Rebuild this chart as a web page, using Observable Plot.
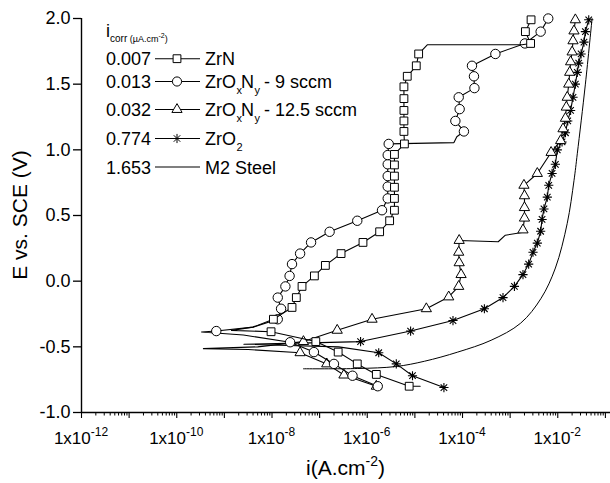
<!DOCTYPE html>
<html><head><meta charset="utf-8">
<script src="https://cdn.jsdelivr.net/npm/d3@7"></script>
<script src="https://cdn.jsdelivr.net/npm/@observablehq/plot@0.6"></script>
<style>
html,body{margin:0;padding:0;background:#fff;}
#chart{position:relative;width:610px;height:483px;}
svg{font-family:"Liberation Sans",Arial,Helvetica,sans-serif;}
</style></head><body><div id="chart"></div>
<script>
// ---------- data (current density A/cm², potential V vs SCE) ----------
const seriesNames = ["ZrN", "ZrOxNy - 9 sccm", "ZrOxNy - 12.5 sccm", "ZrO2", "M2 Steel"];
const icorrLabels = ["0.007", "0.013", "0.032", "0.774", "1.653"];
const tickExponents = [-12, -10, -8, -6, -4, -2];
const yTicks = [-1.0, -0.5, 0.0, 0.5, 1.0, 1.5, 2.0];

const zrN_i = [1.29e-5, 7.59e-6, 1.55e-6, 6.17e-7, 2.45e-7, 8.32e-8, 9.55e-9, 1.41e-9, 3.98e-9, 1.07e-8, 2.63e-8, 3.24e-8, 4.27e-8, 7.76e-8, 1.32e-7, 2.82e-7, 8.13e-7, 1.82e-6, 2.95e-6, 3.72e-6, 3.72e-6, 3.72e-6, 3.72e-6, 3.72e-6, 3.72e-6, 6.03e-6, 5.89e-6, 5.89e-6, 5.89e-6, 5.89e-6, 5.89e-6, 6.92e-6, 1.07e-5, 1.20e-5, 1.82e-5, 1.78e-3, 2.69e-3, 2.09e-3, 2.75e-3];
const zrN_E = [-0.80, -0.80, -0.71, -0.63, -0.54, -0.46, -0.385, -0.375, -0.35, -0.29, -0.20, -0.125, -0.04, 0.04, 0.12, 0.21, 0.295, 0.376, 0.46, 0.54, 0.63, 0.715, 0.80, 0.885, 0.965, 1.045, 1.14, 1.22, 1.30, 1.39, 1.48, 1.56, 1.64, 1.73, 1.80, 1.80, 1.81, 1.90, 1.99];
const zrN_sym = [0,1,1,1,1,1,1,0,0, 1,1,1,1,1,1,1,1,1,1, 1,1,1,1,1,1,1,1,1,1, 1,1,1,1,1, 0,0,1,1,1];

const zon9_i = [1.66e-6, 4.90e-7, 2.00e-7, 7.59e-8, 2.40e-8, 2.51e-9, 3.31e-10, 6.76e-10, 3.98e-9, 1.32e-8, 1.55e-8, 1.32e-8, 1.91e-8, 2.34e-8, 2.63e-8, 3.89e-8, 6.61e-8, 1.62e-7, 6.17e-7, 2.04e-6, 2.69e-6, 2.69e-6, 2.69e-6, 2.69e-6, 2.69e-6, 2.82e-6, 6.61e-5, 7.59e-5, 1.07e-4, 7.08e-5, 8.71e-5, 8.32e-5, 1.78e-4, 1.74e-4, 1.58e-4, 4.90e-4, 2.04e-3, 4.37e-3, 6.31e-3];
const zon9_E = [-0.80, -0.72, -0.63, -0.54, -0.465, -0.41, -0.387, -0.38, -0.35, -0.29, -0.21, -0.125, -0.04, 0.04, 0.13, 0.21, 0.295, 0.376, 0.46, 0.54, 0.63, 0.72, 0.80, 0.89, 0.96, 1.045, 1.055, 1.10, 1.14, 1.22, 1.31, 1.40, 1.47, 1.56, 1.64, 1.73, 1.81, 1.90, 2.0];
const zon9_sym = [1,1,1,1,1,0,0,1,0, 1,1,1,1,1,1,1,1,1,1,1,1,1,1,1,1,1, 0,0, 1,1,1,1,1,1,1,1,1,1,1];

const zon12_i = [1.55e-6, 3.24e-7, 1.41e-7, 3.89e-8, 3.16e-9, 3.63e-10, 5.01e-9, 4.57e-8, 2.34e-7, 1.26e-6, 1.74e-5, 5.13e-5, 8.32e-5, 9.33e-5, 8.51e-5, 8.32e-5, 8.51e-5, 5.62e-4, 7.94e-4, 1.78e-3, 1.86e-3, 2.00e-3, 2.00e-3, 2.00e-3, 1.95e-3, 3.72e-3, 7.24e-3, 1.15e-2, 1.29e-2, 1.45e-2, 1.51e-2, 1.58e-2, 1.70e-2, 1.78e-2, 1.86e-2, 2.00e-2, 2.09e-2, 2.19e-2, 2.34e-2];
const zon12_E = [-0.80, -0.715, -0.63, -0.545, -0.52, -0.514, -0.50, -0.46, -0.374, -0.29, -0.21, -0.12, -0.04, 0.05, 0.14, 0.22, 0.31, 0.30, 0.35, 0.37, 0.39, 0.48, 0.56, 0.65, 0.73, 0.82, 0.98, 1.07, 1.16, 1.24, 1.325, 1.40, 1.50, 1.59, 1.67, 1.745, 1.83, 1.905, 1.99];
const zon12_sym = [1,1,1,1,0,0,0, 1,1,1,1,1,1,1,1,1,1, 0,0,0, 1,1,1,1,1,1,1,1,1,1,1,1,1,1,1,1,1,1,1];

const zrO2_i = [4.07e-5, 8.91e-6, 4.07e-6, 1.74e-6, 2.51e-7, 2.57e-9, 6.31e-8, 7.24e-7, 8.13e-6, 6.31e-5, 2.88e-4, 7.08e-4, 1.23e-3, 1.86e-3, 2.45e-3, 3.02e-3, 3.72e-3, 4.37e-3, 4.68e-3, 5.13e-3, 6.03e-3, 6.46e-3, 7.59e-3, 8.91e-3, 9.77e-3, 1.23e-2, 1.45e-2, 1.62e-2, 1.86e-2, 2.09e-2, 2.34e-2, 2.57e-2, 2.75e-2, 3.09e-2, 3.55e-2, 3.80e-2, 4.47e-2];
const zrO2_E = [-0.81, -0.72, -0.63, -0.545, -0.50, -0.48, -0.47, -0.46, -0.38, -0.30, -0.21, -0.125, -0.04, 0.05, 0.13, 0.22, 0.29, 0.38, 0.47, 0.55, 0.64, 0.73, 0.82, 0.89, 1.00, 1.06, 1.13, 1.22, 1.30, 1.40, 1.50, 1.59, 1.66, 1.73, 1.82, 1.90, 1.99];
const zrO2_sym = [1,1,1,1,0,0,0, 1,1,1,1,1,1,1,1,1,1,1,1,1,1,1,1,1,1,1,1,1,1,1,1,1,1,1,1,1,1];

const steel_i = [4.57e-8, 6.31e-7, 3.98e-6, 1.58e-5, 7.94e-5, 3.98e-4, 1.66e-3, 4.47e-3, 8.91e-3, 1.58e-2, 2.19e-2, 2.57e-2, 3.80e-2, 5.25e-2];
const steel_E = [-0.667, -0.665, -0.65, -0.61, -0.54, -0.45, -0.32, -0.13, 0.10, 0.44, 0.765, 0.97, 1.50, 2.0];

// ---------- build tables ----------
const asterisk8 = {
  draw(ctx, size) {
    const r = Math.sqrt(size / Math.PI), d = r * Math.SQRT1_2;
    ctx.moveTo(-r, 0); ctx.lineTo(r, 0);
    ctx.moveTo(0, -r); ctx.lineTo(0, r);
    ctx.moveTo(-d, -d); ctx.lineTo(d, d);
    ctx.moveTo(-d, d); ctx.lineTo(d, -d);
  }
};
const toRows = (name, I, E, S) => I.map((v, k) => ({series: name, i: v, E: E[k], sym: S ? S[k] : 0}));
const zrN = toRows(seriesNames[0], zrN_i, zrN_E, zrN_sym);
const zon9 = toRows(seriesNames[1], zon9_i, zon9_E, zon9_sym);
const zon12 = toRows(seriesNames[2], zon12_i, zon12_E, zon12_sym);
const zrO2 = toRows(seriesNames[3], zrO2_i, zrO2_E, zrO2_sym);
const steel = toRows(seriesNames[4], steel_i, steel_E, null);

const decades = d3.range(-12, 0).map(e => Math.pow(10, e));
const minors = [];
decades.forEach(d => { for (let m = 2; m <= 9; m++) if (m * d <= 0.128) minors.push(m * d); });

const lineOpts = {x: "i", y: "E", stroke: "black", strokeWidth: 1.1};
const dotOpts = {x: "i", y: "E", stroke: "black", strokeWidth: 1, fill: "white"};

const plot = Plot.plot({
  width: 610, height: 483,
  marginLeft: 81, marginRight: 0, marginTop: 18, marginBottom: 71,
  x: {type: "log", domain: [1e-12, 0.128]},
  y: {domain: [-1, 2]},
  style: {fontFamily: "'Liberation Sans', Arial, sans-serif", fontSize: "18px", color: "black", background: "white"},
  marks: [
    Plot.line(steel, {...lineOpts, strokeWidth: 1, curve: "catmull-rom"}),
    Plot.line(zrO2, lineOpts),
    Plot.dot(zrO2.filter(d => d.sym), {...dotOpts, symbol: asterisk8, r: 4.6, fill: "none", strokeWidth: 1.1}),
    Plot.line(zon12, lineOpts),
    Plot.dot(zon12.filter(d => d.sym), {...dotOpts, symbol: "triangle", r: 3.8}),
    Plot.line(zon9, lineOpts),
    Plot.dot(zon9.filter(d => d.sym), {...dotOpts, symbol: "circle", r: 4.7}),
    Plot.line(zrN, lineOpts),
    Plot.dot(zrN.filter(d => d.sym), {...dotOpts, symbol: "square", r: 4.4}),
    Plot.ruleY([-1], {stroke: "black", strokeWidth: 1.4}),
    Plot.ruleX([1e-12], {stroke: "black", strokeWidth: 1.4}),
    Plot.axisY({ticks: yTicks, tickFormat: d => d.toFixed(1), tickSize: 8, tickPadding: 3, fontSize: 18, label: null, strokeWidth: 1.3}),
    Plot.axisX({ticks: decades, tickSize: 6, tickFormat: () => "", label: null, strokeWidth: 1.1}),
    Plot.axisX({ticks: minors, tickSize: 3.5, tickFormat: () => "", label: null, strokeWidth: 1})
  ]
});

document.getElementById("chart").appendChild(plot);
const svg = d3.select(plot);
const xs = plot.scale("x");
const ys = plot.scale("y");

// x tick labels 1x10^n
const gx = svg.append("g").attr("font-size", 17).attr("text-anchor", "middle").attr("fill", "black");
tickExponents.forEach(e => {
  const t = gx.append("text").attr("x", xs.apply(Math.pow(10, e))).attr("y", 444);
  t.append("tspan").text("1x10");
  t.append("tspan").attr("dy", -8).attr("font-size", 12).text(String(e));
});

// axis titles (centred on the plot frame)
const xMid = (xs.range[0] + xs.range[1]) / 2;
const yMid = (ys.range[0] + ys.range[1]) / 2;
const xt = svg.append("text").attr("x", xMid).attr("y", 475).attr("text-anchor", "middle").attr("font-size", 21).attr("fill", "black");
xt.append("tspan").text("i(A.cm");
xt.append("tspan").attr("dy", -9).attr("font-size", 14).text("-2");
xt.append("tspan").attr("dy", 9).text(")");

svg.append("text").attr("transform", `translate(27,${yMid}) rotate(-90)`).attr("text-anchor", "middle")
  .attr("font-size", 21).attr("fill", "black").text("E vs. SCE (V)");

// legend
const lg = svg.append("g").attr("fill", "black").attr("text-anchor", "start");
const hdr = lg.append("text").attr("x", 106).attr("y", 37).attr("font-size", 18);
hdr.append("tspan").text("i");
hdr.append("tspan").attr("dy", 5).attr("font-size", 10).text("corr");
hdr.append("tspan").attr("font-size", 9).text(" (\u00b5A.cm");
hdr.append("tspan").attr("dy", -4).attr("font-size", 7).text("-2");
hdr.append("tspan").attr("dy", 4).attr("font-size", 9).text(")");

const rowY = [58.7, 81.5, 109.5, 138.5, 167];
const labelParts = [
  [["ZrN"]],
  [["ZrO"], ["x", 1], ["N"], ["y", 1], [" - 9 sccm"]],
  [["ZrO"], ["x", 1], ["N"], ["y", 1], [" - 12.5 sccm"]],
  [["ZrO"], ["2", 1]],
  [["M2 Steel"]]
];
const legendSymbols = [d3.symbolSquare, d3.symbolCircle, d3.symbolTriangle, asterisk8, null];
const legendSizes = [61, 66, 45, 66, 0];
icorrLabels.forEach((v, k) => {
  const cy = rowY[k];
  lg.append("text").attr("x", 106).attr("y", cy + 6.5).attr("font-size", 18).text(v);
  lg.append("line").attr("x1", 155).attr("x2", 200).attr("y1", cy).attr("y2", cy).attr("stroke", "black").attr("stroke-width", 1.1);
  if (legendSymbols[k]) {
    lg.append("path").attr("transform", `translate(177,${cy})`)
      .attr("d", d3.symbol(legendSymbols[k], legendSizes[k])())
      .attr("fill", k === 3 ? "none" : "white").attr("stroke", "black").attr("stroke-width", 1);
  }
  const t = lg.append("text").attr("x", 205).attr("y", cy + 6.5).attr("font-size", 18);
  let sub = false;
  labelParts[k].forEach(([s, isSub]) => {
    const ts = t.append("tspan").text(s);
    if (isSub && !sub) { ts.attr("dy", 6).attr("font-size", 11).attr("dx", 0.5); sub = true; }
    else if (!isSub && sub) { ts.attr("dy", -6).attr("dx", -1); sub = false; }
  });
});
</script></body></html>
